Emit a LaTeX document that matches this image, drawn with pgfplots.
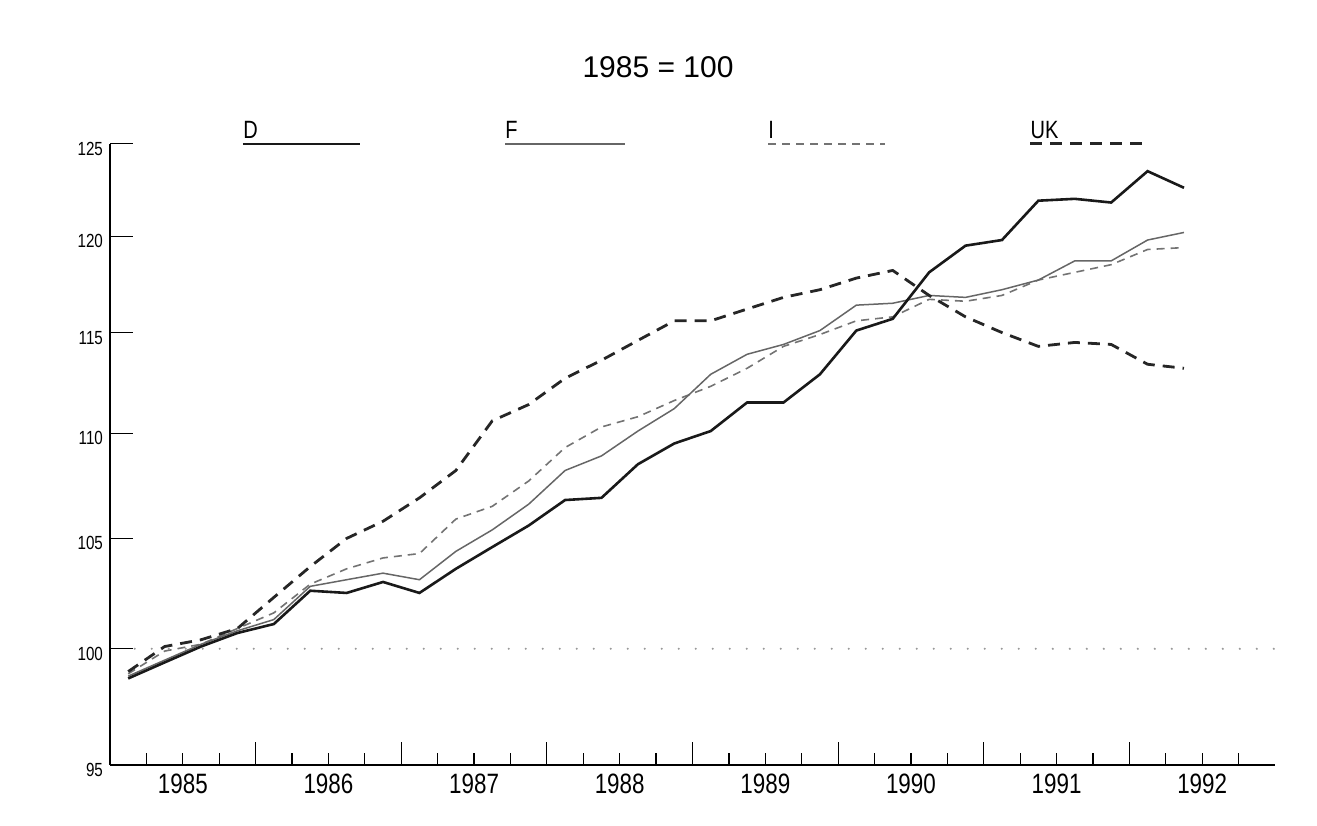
\documentclass[border=0pt]{standalone}
\usepackage{pgfplots}
\pgfplotsset{compat=1.18}
\usepackage{fontspec}
\setmainfont[FakeStretch=0.8]{Liberation Sans}
\newfontfamily\titlefont{Liberation Sans}

\begin{document}
\begin{tikzpicture}
\begin{axis}[
  at={(0,0)}, anchor=south west,
  scale only axis, width=582.5pt, height=310.5pt,
  xmin=1985, xmax=1993, ymin=95, ymax=125, ymode=log,
  axis x line*=bottom, axis y line*=left,
  axis line style={line width=0.7pt, black},
  clip=false,
  tick align=inside,
  major tick length=11.5pt, minor tick length=6pt,
  tick style={black, line width=0.6pt},
  xtick={1986,1987,1988,1989,1990,1991,1992}, xticklabels={},
  minor xtick={1985.25,1985.5,1985.75,1986.25,1986.5,1986.75,1987.25,1987.5,1987.75,1988.25,1988.5,1988.75,1989.25,1989.5,1989.75,1990.25,1990.5,1990.75,1991.25,1991.5,1991.75,1992.25,1992.5,1992.75},
  extra x ticks={1985.5,1986.5,1987.5,1988.5,1989.5,1990.5,1991.5,1992.5},
  extra x tick labels={1985,1986,1987,1988,1989,1990,1991,1992},
  extra x tick style={major tick length=0pt, tick style={draw=none}},
  yminorticks=false,
  ytick={95,100,105,110,115,120,125},
  yticklabels={95,100,105,110,115,120,125},
  xticklabel style={font=\fontsize{14}{14}\selectfont, yshift=-1pt},
  yticklabel style={font=\fontsize{9.5}{9.5}\selectfont, yshift=-2.5pt},
]
% reference line at 100
\addplot[black!40, line width=1.2pt, line cap=round, dash pattern=on 0pt off 8.5pt] coordinates {(1985.17,100) (1993,100)};

% I (thin dashed)
\addplot[black!55, line width=0.8pt, dash pattern=on 4pt off 3pt] coordinates {
(1985.125,98.9) (1985.375,99.9) (1985.625,100.2) (1985.875,100.9)
(1986.125,101.6) (1986.375,102.9) (1986.625,103.6) (1986.875,104.1)
(1987.125,104.3) (1987.375,105.9) (1987.625,106.5) (1987.875,107.7)
(1988.125,109.3) (1988.375,110.3) (1988.625,110.8) (1988.875,111.6)
(1989.125,112.3) (1989.375,113.2) (1989.625,114.3) (1989.875,114.9)
(1990.125,115.6) (1990.375,115.8) (1990.625,116.7) (1990.875,116.6)
(1991.125,116.9) (1991.375,117.7) (1991.625,118.1) (1991.875,118.5)
(1992.125,119.3) (1992.375,119.4)};

% F (thin solid)
\addplot[black!60, line width=0.75pt] coordinates {
(1985.125,98.8) (1985.375,99.5) (1985.625,100.2) (1985.875,100.8)
(1986.125,101.3) (1986.375,102.8) (1986.625,103.1) (1986.875,103.4)
(1987.125,103.1) (1987.375,104.4) (1987.625,105.4) (1987.875,106.6)
(1988.125,108.2) (1988.375,108.9) (1988.625,110.1) (1988.875,111.2)
(1989.125,112.9) (1989.375,113.9) (1989.625,114.4) (1989.875,115.1)
(1990.125,116.4) (1990.375,116.5) (1990.625,116.9) (1990.875,116.8)
(1991.125,117.2) (1991.375,117.7) (1991.625,118.7) (1991.875,118.7)
(1992.125,119.8) (1992.375,120.2)};

% UK (thick dashed)
\addplot[black!85, line width=1.4pt, dash pattern=on 6pt off 4pt] coordinates {
(1985.125,99.0) (1985.375,100.1) (1985.625,100.4) (1985.875,100.9)
(1986.125,102.3) (1986.375,103.7) (1986.625,105.0) (1986.875,105.8)
(1987.125,106.9) (1987.375,108.2) (1987.625,110.6) (1987.875,111.4)
(1988.125,112.7) (1988.375,113.6) (1988.625,114.6) (1988.875,115.6)
(1989.125,115.6) (1989.375,116.2) (1989.625,116.8) (1989.875,117.2)
(1990.125,117.8) (1990.375,118.2) (1990.625,116.9) (1990.875,115.8)
(1991.125,115.0) (1991.375,114.3) (1991.625,114.5) (1991.875,114.4)
(1992.125,113.4) (1992.375,113.2)};

% D (thick solid)
\addplot[black!90, line width=1.3pt] coordinates {
(1985.125,98.7) (1985.375,99.4) (1985.625,100.1) (1985.875,100.7)
(1986.125,101.1) (1986.375,102.6) (1986.625,102.5) (1986.875,103.0)
(1987.125,102.5) (1987.375,103.6) (1987.625,104.6) (1987.875,105.6)
(1988.125,106.8) (1988.375,106.9) (1988.625,108.5) (1988.875,109.5)
(1989.125,110.1) (1989.375,111.5) (1989.625,111.5) (1989.875,112.9)
(1990.125,115.1) (1990.375,115.7) (1990.625,118.1) (1990.875,119.5)
(1991.125,119.8) (1991.375,121.9) (1991.625,122.0) (1991.875,121.8)
(1992.125,123.5) (1992.375,122.6)};

% legend
\draw[black!90, line width=1.3pt] (axis cs:1985.913,125) -- (axis cs:1986.717,125);
\node[anchor=base west, inner sep=0pt, font=\fontsize{12.5}{12.5}\selectfont] at ([yshift=2.5pt]axis cs:1985.913,125) {D};
\draw[black!60, line width=0.75pt] (axis cs:1987.713,125) -- (axis cs:1988.537,125);
\node[anchor=base west, inner sep=0pt, font=\fontsize{12.5}{12.5}\selectfont] at ([yshift=2.5pt]axis cs:1987.713,125) {F};
\draw[black!55, line width=0.8pt, dash pattern=on 4pt off 3pt] (axis cs:1989.519,125) -- (axis cs:1990.323,125);
\node[anchor=base west, inner sep=0pt, font=\fontsize{12.5}{12.5}\selectfont] at ([yshift=2.5pt]axis cs:1989.519,125) {I};
\draw[black!85, line width=1.4pt, dash pattern=on 6pt off 4pt] (axis cs:1991.319,125) -- (axis cs:1992.129,125);
\node[anchor=base west, inner sep=0pt, font=\fontsize{12.5}{12.5}\selectfont] at ([yshift=2.5pt]axis cs:1991.319,125) {UK};
\end{axis}
\node[font=\titlefont\fontsize{15}{15}\selectfont, inner sep=0pt] at (274pt,349pt) {1985 = 100};
\pgfresetboundingbox
\useasboundingbox (-55pt,-30pt) rectangle (603.5pt,382.5pt);
\end{tikzpicture}
\end{document}
